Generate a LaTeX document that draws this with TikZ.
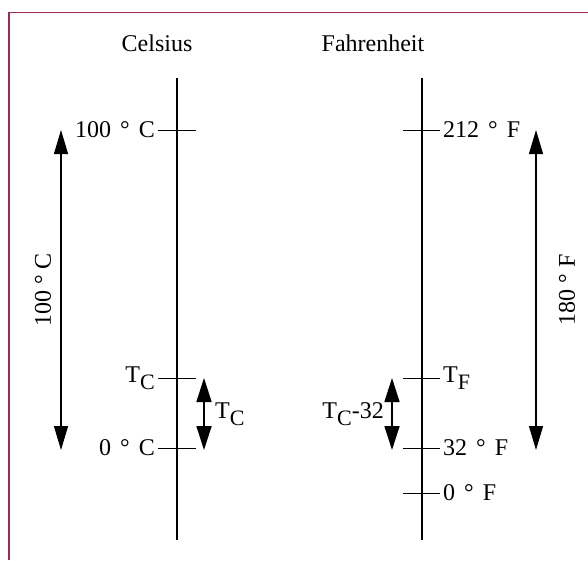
\documentclass[tikz,border=0pt]{standalone}
\usepackage{fontspec}
\setmainfont{Liberation Serif}
\usetikzlibrary{arrows.meta}
\definecolor{Frame}{HTML}{9B2B4F}
\newcommand{\lowsub}[1]{\raisebox{-7pt}{\fontsize{22}{22}\selectfont #1}}
\newcommand{\dg}{\hspace{9pt}°\hspace{9pt}}

\begin{document}
\begin{tikzpicture}[x=1pt,y=-1pt,font=\fontsize{24}{28}\selectfont,
    scaleline/.style={line width=2.8pt},
    tickline/.style={line width=1pt},
    bigspan/.style={line width=1.2pt,{Triangle[length=24pt,width=14pt]}-{Triangle[length=24pt,width=14pt]}},
    smallspan/.style={line width=1.7pt,{Triangle[length=24pt,width=15pt]}-{Triangle[length=24pt,width=15pt]}},
    lbl/.style={inner sep=3pt}]
  \useasboundingbox (0,0) rectangle (588,560);
  \draw[Frame,line width=1.8pt] (9,560) |- (588,12.5);

  % headings
  \node (cel) at (157,43) {Celsius};
  \node (fah) at (373,43) {Fahrenheit};

  % Celsius scale
  \coordinate (ctop) at (177,78);
  \coordinate (cbot) at (177,540);
  \draw[scaleline] (ctop) -- (cbot);
  \foreach \name/\y in {c100/130,ct/378,c0/448} {
    \coordinate (\name-l) at (158,\y);
    \coordinate (\name-r) at (196,\y);
    \draw[tickline] (\name-l) -- (\name-r);
  }
  \node[lbl,anchor=east] (c100lab) at (c100-l) {100\dg C};
  \node[lbl,anchor=east] (ctlab) at (ct-l) {T\lowsub{C}};
  \node[lbl,anchor=east] (c0lab) at (c0-l) {0\dg C};

  % Fahrenheit scale
  \coordinate (ftop) at (422,78);
  \coordinate (fbot) at (422,540);
  \draw[scaleline] (ftop) -- (fbot);
  \foreach \name/\y in {f212/130,ft/378,f32/448,f0/493} {
    \coordinate (\name-l) at (403,\y);
    \coordinate (\name-r) at (440,\y);
    \draw[tickline] (\name-l) -- (\name-r);
  }
  \node[lbl,anchor=west] (f212lab) at (f212-r) {212\dg F};
  \node[lbl,anchor=west] (ftlab) at (ft-r) {T\lowsub{F}};
  \node[lbl,anchor=west] (f32lab) at (f32-r) {32\dg F};
  \node[lbl,anchor=west] (f0lab) at (f0-r) {0\dg F};

  % ranges
  \coordinate (crng-t) at (61,130);
  \coordinate (crng-b) at (61,450);
  \draw[bigspan] (crng-t) -- (crng-b);
  \node[rotate=90] (crnglab) at (43,290) {100 ° C};

  \coordinate (frng-t) at (536,130);
  \coordinate (frng-b) at (536,450);
  \draw[bigspan] (frng-t) -- (frng-b);
  \node[rotate=90] (frnglab) at (567,290) {180 ° F};

  % differences
  \coordinate (cdif-t) at (204,378);
  \coordinate (cdif-b) at (204,450);
  \draw[smallspan] (cdif-t) -- (cdif-b);
  \node[lbl,anchor=west] (cdiflab) at (212,414) {T\lowsub{C}};

  \coordinate (fdif-t) at (392,378);
  \coordinate (fdif-b) at (392,450);
  \draw[smallspan] (fdif-t) -- (fdif-b);
  \node[lbl,anchor=east] (fdiflab) at (387,414) {T\lowsub{C}-32};
\end{tikzpicture}
\end{document}
